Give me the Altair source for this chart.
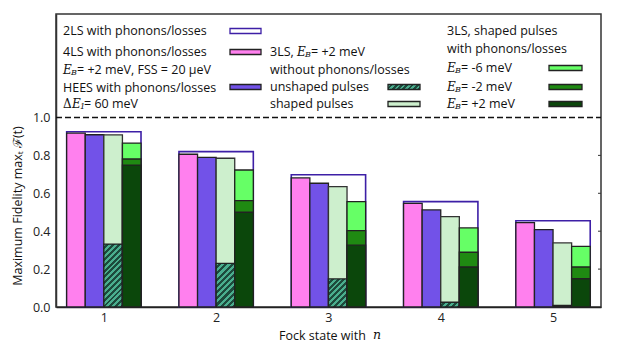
import altair as alt
import pandas as pd
import numpy as np

# ---------------- data ----------------
fock_n = [1, 2, 3, 4, 5]
two_ls = [0.925, 0.820, 0.698, 0.556, 0.455]      # 2LS with phonons/losses (outline)
four_ls = [0.917, 0.806, 0.681, 0.547, 0.445]     # 4LS with phonons/losses
hees = [0.909, 0.790, 0.653, 0.512, 0.408]        # HEES with phonons/losses
shaped = [0.908, 0.785, 0.635, 0.477, 0.338]      # 3LS w/o phonons, shaped pulses
unshaped = [0.332, 0.230, 0.148, 0.025, 0.008]    # 3LS w/o phonons, unshaped pulses
eb_m6 = [0.865, 0.723, 0.556, 0.417, 0.320]       # 3LS shaped, E_B = -6 meV
eb_m2 = [0.781, 0.561, 0.403, 0.289, 0.211]       # 3LS shaped, E_B = -2 meV
eb_p2 = [0.749, 0.500, 0.326, 0.211, 0.149]       # 3LS shaped, E_B = +2 meV
y_ticks = [0.0, 0.2, 0.4, 0.6, 0.8, 1.0]

# ---------------- layout / style ----------------
W, H = 545, 293
XDOM = [0.574, 5.427]
YDOM = [0, 1.546]
BW = 0.1655
SANS = "Open Sans"
SERIF = "DejaVu Serif"
EDGE = "#222222"
FS = 12.5

xs = alt.Scale(domain=XDOM, nice=False, zero=False)
ys = alt.Scale(domain=YDOM, nice=False, zero=False)
XA = alt.Axis(values=fock_n, format="d", title=None, grid=False, ticks=False,
              labelFont=SANS, labelFontSize=12.5, labelColor="#222", labelPadding=4,
              domainColor="#222", domainWidth=1.5)
YA = alt.Axis(values=y_ticks, format=".1f", title=None, grid=False, ticks=False,
              labelFont=SANS, labelFontSize=12.5, labelColor="#222", labelPadding=6,
              domainColor="#333", domainWidth=1.5)


def frame(values, slot, span=1):
    x0 = [k - 2 * BW + slot * BW for k in fock_n]
    return pd.DataFrame({"n": fock_n, "v": values, "x0": x0,
                         "x1": [a + span * BW for a in x0]})


def bars(df, fill, stroke=EDGE, sw=1.3):
    return alt.Chart(df).mark_rect(fill=fill, stroke=stroke, strokeWidth=sw).encode(
        x=alt.X("x0:Q", scale=xs, axis=XA), x2="x1:Q",
        y=alt.Y("v:Q", scale=ys, axis=YA), y2=alt.datum(0))


def hatch(w, h, period=4.2, light="#4aae8e", dark="#1d4a3c"):
    r = h / w
    c = (1 + r) / (1 + r * r)
    nst = max(1, int(round((w + h) / (np.sqrt(2) * period))))
    stops = []
    for k in range(nst):
        a, m, b = k / nst, (k + 0.5) / nst, (k + 1) / nst
        stops += [{"offset": a, "color": light}, {"offset": m, "color": light},
                  {"offset": m, "color": dark}, {"offset": b, "color": dark}]
    return {"gradient": "linear", "x1": 0, "y1": 0, "x2": c, "y2": c * r, "stops": stops}


px_x = W / (XDOM[1] - XDOM[0])
px_y = H / (YDOM[1] - YDOM[0])

layers = []
layers.append(bars(frame(two_ls, 0, span=4), "white", stroke="#3d1fa6", sw=1.6))
layers.append(bars(frame(four_ls, 0), "#ff80ee"))
layers.append(bars(frame(hees, 1), "#7252e8"))
layers.append(bars(frame(shaped, 2), "#cdefcd", stroke="#333"))
df_un = frame(unshaped, 2)
for i in range(len(fock_n)):
    sub = df_un.iloc[[i]]
    layers.append(bars(sub, hatch(BW * px_x, max(unshaped[i] * px_y, 1.0))))
layers.append(bars(frame(eb_m6, 3), "#66ff66"))
layers.append(bars(frame(eb_m2, 3), "#1f8a12"))
layers.append(bars(frame(eb_p2, 3), "#0b470b"))

# dashed line at fidelity 1
layers.append(alt.Chart(pd.DataFrame({"y": [1.0]})).mark_rule(
    color="#111", strokeWidth=1.5, strokeDash=[6, 3]).encode(
    y=alt.Y("y:Q", scale=ys, axis=YA), x=alt.value(0), x2=alt.value(W)))

# inward ticks on the right side
layers.append(alt.Chart(pd.DataFrame({"y": [0.2, 0.4, 0.6, 0.8]})).mark_rule(
    color="#333", strokeWidth=1).encode(
    y=alt.Y("y:Q", scale=ys, axis=YA), x=alt.value(W - 3), x2=alt.value(W)))


# ---------------- legend (text in plot pixel coordinates) ----------------
def label(px, py, t, font=SANS, size=FS, style="normal", angle=0, align="left"):
    return alt.Chart(pd.DataFrame({"t": [t]})).mark_text(
        font=font, fontSize=size, fontStyle=style, align=align, angle=angle,
        baseline="middle", color="#111").encode(
        x=alt.value(px), y=alt.value(py), text="t:N")


sans_items = [
    (7, 17, "2LS with phonons/losses"),
    (7, 38, "4LS with phonons/losses"),
    (21, 56, "= +2 meV, FSS = 20 \u03bceV"),
    (7, 74, "HEES with phonons/losses"),
    (28, 90, "= 60 meV"),
    (214, 38, "3LS,"),
    (255, 38, "= +2 meV"),
    (214, 56, "without phonons/losses"),
    (214, 73, "unshaped pulses"),
    (214, 90, "shaped pulses"),
    (391, 17, "3LS, shaped pulses"),
    (391, 35, "with phonons/losses"),
    (405, 54, "= -6 meV"),
    (405, 73, "= -2 meV"),
    (405, 90, "= +2 meV"),
]
big_items = [(7, 56, "E"), (16, 90, "E"), (241, 38, "E"),
             (391, 54, "E"), (391, 73, "E"), (391, 90, "E")]
sub_items = [(15, 59, "B"), (24, 93, "1"), (249, 41, "B"),
             (399, 57, "B"), (399, 76, "B"), (399, 93, "B")]

for px, py, t in sans_items:
    layers.append(label(px, py, t))
layers.append(label(7, 90, "\u0394", font=SERIF, size=12))
for px, py, t in big_items:
    layers.append(label(px, py, t, font=SERIF, size=12, style="italic"))
for px, py, t in sub_items:
    layers.append(label(px, py, t, font=SERIF, size=8, style="italic"))

patches = [
    (174, 205, 17, "white", "#3d1fa6"),
    (174, 205, 38, "#ff80ee", EDGE),
    (174, 205, 73, "#7252e8", EDGE),
    (332, 364, 90, "#cdefcd", EDGE),
    (493, 526, 54, "#66ff66", EDGE),
    (493, 526, 73, "#1f8a12", EDGE),
    (493, 526, 90, "#0b470b", EDGE),
]
for xa, xb, yc, f, s in patches:
    layers.append(alt.Chart(pd.DataFrame({"a": [xa]})).mark_rect(
        fill=f, stroke=s, strokeWidth=1.3).encode(
        x=alt.value(xa), x2=alt.value(xb), y=alt.value(yc - 2.5), y2=alt.value(yc + 2.5)))
layers.append(alt.Chart(pd.DataFrame({"a": [332]})).mark_rect(
    fill=hatch(32, 5, period=3.6), stroke=EDGE, strokeWidth=1.3).encode(
    x=alt.value(332), x2=alt.value(364), y=alt.value(70.5), y2=alt.value(75.5)))

# ---------------- axis titles ----------------
layers.append(label(-38, 192, "Maximum Fidelity max\u209c \u2131(t)", size=12.5, angle=270, align="center"))
layers.append(label(223, 321.5, "Fock state with", size=12.5))
layers.append(label(317, 320.5, "n", font=SERIF, size=12.5, style="italic"))

chart = alt.layer(*layers).properties(
    width=W, height=H,
    padding={"left": 48, "top": 6, "right": 13, "bottom": 35},
    autosize=alt.AutoSizeParams(type="none"),
    background="white",
).configure_view(stroke="#333", strokeWidth=1.5)

chart.save("out.html", embed_options={"renderer": "svg", "actions": False})
